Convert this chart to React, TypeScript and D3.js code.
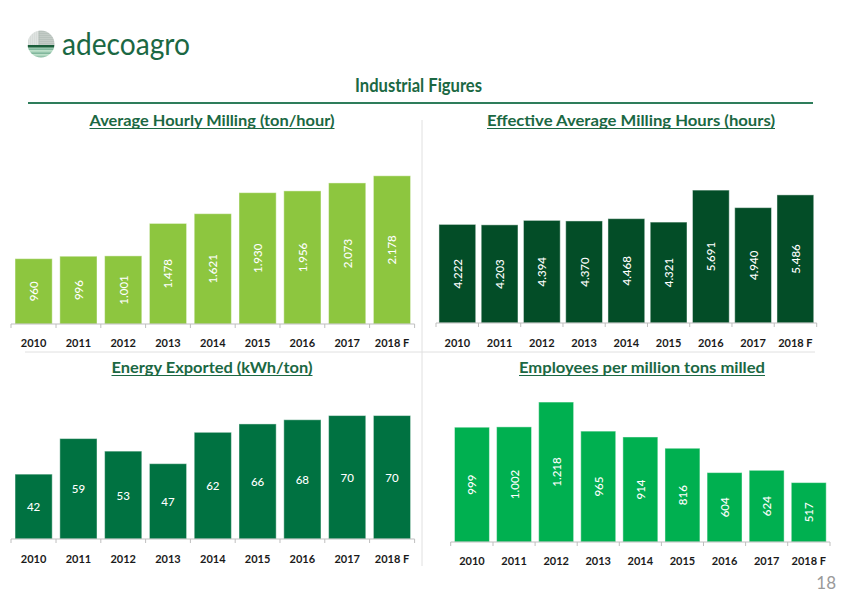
import * as d3 from "d3";

const years = ["2010", "2011", "2012", "2013", "2014", "2015", "2016", "2017", "2018 F"];

const hourlyMilling = [960, 996, 1001, 1478, 1621, 1930, 1956, 2073, 2178];
const hourlyMillingLabels = ["960", "996", "1.001", "1.478", "1.621", "1.930", "1.956", "2.073", "2.178"];

const millingHours = [4222, 4203, 4394, 4370, 4468, 4321, 5691, 4940, 5486];
const millingHoursLabels = ["4.222", "4.203", "4.394", "4.370", "4.468", "4.321", "5.691", "4.940", "5.486"];

const energyExported = [42, 59, 53, 47, 62, 66, 68, 70, 70];
const energyExportedLabels = ["42", "59", "53", "47", "62", "66", "68", "70", "70"];

const employees = [999, 1002, 1218, 965, 914, 816, 604, 624, 517];
const employeesLabels = ["999", "1.002", "1.218", "965", "914", "816", "604", "624", "517"];

const W = 842;
const H = 595;
const darkGreen = "#1b6843";
const font = "Lato, 'Open Sans', sans-serif";

type ChartProps = {
    values: number[];
    labels: string[];
    x0: number;
    x1: number;
    top: number;
    base: number;
    yMin: number;
    yMax: number;
    inner: number;
    outer: number;
    color: string;
    rotate: boolean;
    labelY: number;
};

function BarChart({ values, labels, x0, x1, top, base, yMin, yMax, inner, outer, color, rotate, labelY }: ChartProps) {
    const x = d3.scaleBand<string>().domain(years).range([x0, x1]).paddingInner(inner).paddingOuter(outer);
    const y = d3.scaleLinear().domain([yMin, yMax]).range([base, top]);
    const step = x.step();
    const ticks = years.map((c) => x(c)! - (inner * step) / 2);
    ticks[0] = x0;
    ticks.push(x1);

    return (
        <g>
            {values.map((v, i) => {
                const bx = x(years[i])!;
                const by = y(v);
                const cx = bx + x.bandwidth() / 2;
                const cy = (by + base) / 2;
                return (
                    <g key={i}>
                        <rect
                            x={bx}
                            y={by}
                            width={x.bandwidth()}
                            height={base - by}
                            fill={color}
                            stroke="#ffffff"
                            strokeOpacity={0.45}
                            strokeWidth={1}
                        />
                        <text
                            x={cx}
                            y={cy}
                            transform={rotate ? `rotate(-90, ${cx}, ${cy})` : undefined}
                            textAnchor="middle"
                            dominantBaseline="central"
                            fill="#ffffff"
                            fontSize={11.5}
                            fontWeight={500}
                            fontFamily={font}
                        >
                            {labels[i]}
                        </text>
                    </g>
                );
            })}
            <line x1={x0} x2={x1} y1={base} y2={base} stroke="#bfbfbf" strokeWidth={1} />
            {ticks.map((t, i) => (
                <line key={i} x1={t} x2={t} y1={base} y2={base + 4} stroke="#bfbfbf" strokeWidth={1} />
            ))}
            {years.map((c) => (
                <text
                    key={c}
                    x={x(c)! + x.bandwidth() / 2}
                    y={labelY}
                    textAnchor="middle"
                    fontSize={11}
                    fontWeight={700}
                    fill="#1a1a1a"
                    fontFamily={font}
                >
                    {c}
                </text>
            ))}
        </g>
    );
}

function Subtitle({ cx, y, width, text }: { cx: number; y: number; width: number; text: string }) {
    return (
        <g>
            <text
                x={cx}
                y={y}
                textAnchor="middle"
                fontSize={15}
                fontWeight={700}
                fill={darkGreen}
                fontFamily={font}
                textLength={width}
                lengthAdjust="spacingAndGlyphs"
            >
                {text}
            </text>
            <line x1={cx - width / 2} x2={cx + width / 2} y1={y + 2.5} y2={y + 2.5} stroke={darkGreen} strokeWidth={1} />
        </g>
    );
}

function Logo() {
    const cx = 41;
    const cy = 44;
    const r = 13.5;
    const stripes = d3.range(0, 14);
    return (
        <g>
            <defs>
                <clipPath id="logoClip">
                    <circle cx={cx} cy={cy} r={r} />
                </clipPath>
            </defs>
            <g clipPath="url(#logoClip)">
                <rect x={cx - r} y={cy - r} width={2 * r} height={2 * r} fill="#ffffff" />
                {stripes.map((i) => {
                    const sy = cy - r + i * 2;
                    const lower = sy > cy + 2;
                    return (
                        <rect
                            key={i}
                            x={lower ? cx - r : cx - r + 11}
                            y={sy}
                            width={2 * r}
                            height={1.1}
                            fill={lower ? (i % 2 ? "#2f8a5c" : "#7dbf96") : "#8a9a90"}
                        />
                    );
                })}
                {d3.range(0, 6).map((i) => (
                    <rect key={"v" + i} x={cx - r + 1 + i * 2} y={cy - r} width={0.9} height={r + 1} fill="#b0bab4" />
                ))}
                <rect x={cx - r} y={cy + 1} width={2 * r} height={2.5} fill="#1b5e3b" />
            </g>
            <text x={62} y={55} fontSize={31} fill={darkGreen} fontFamily={font} textLength={128} lengthAdjust="spacingAndGlyphs">
                adecoagro
            </text>
        </g>
    );
}

export default function App() {
    return (
        <div style={{ position: "absolute", left: 0, top: 0 }}>
            <svg width={W} height={H} style={{ display: "block", background: "#ffffff" }}>
                <Logo />
                <text
                    x={418.5}
                    y={92}
                    textAnchor="middle"
                    fontSize={19}
                    fontWeight={700}
                    fill={darkGreen}
                    fontFamily={font}
                    textLength={127}
                    lengthAdjust="spacingAndGlyphs"
                >
                    Industrial Figures
                </text>
                <line x1={28} x2={813} y1={103} y2={103} stroke="#2e7d5b" strokeWidth={2} />

                <line x1={422} x2={422} y1={120} y2={566} stroke="#e0e0e0" strokeWidth={1} />
                <line x1={25} x2={815} y1={352} y2={352} stroke="#e0e0e0" strokeWidth={1} />

                <Subtitle cx={212} y={126} width={245} text="Average Hourly Milling (ton/hour)" />
                <Subtitle cx={631} y={126} width={288} text="Effective Average Milling Hours (hours)" />
                <Subtitle cx={212} y={373} width={201} text="Energy Exported (kWh/ton)" />
                <Subtitle cx={642} y={373} width={246} text="Employees per million tons milled" />

                <BarChart
                    values={hourlyMilling}
                    labels={hourlyMillingLabels}
                    x0={11}
                    x1={414.6}
                    top={160}
                    base={324}
                    yMin={0}
                    yMax={2410}
                    inner={0.17}
                    outer={0.09}
                    color="#8dc63f"
                    rotate={true}
                    labelY={347}
                />
                <BarChart
                    values={millingHours}
                    labels={millingHoursLabels}
                    x0={436}
                    x1={816.7}
                    top={160}
                    base={323}
                    yMin={0}
                    yMax={6980}
                    inner={0.13}
                    outer={0.07}
                    color="#034d27"
                    rotate={true}
                    labelY={347}
                />
                <BarChart
                    values={energyExported}
                    labels={energyExportedLabels}
                    x0={11}
                    x1={414.6}
                    top={380}
                    base={539}
                    yMin={11}
                    yMax={87}
                    inner={0.17}
                    outer={0.09}
                    color="#007241"
                    rotate={false}
                    labelY={563}
                />
                <BarChart
                    values={employees}
                    labels={employeesLabels}
                    x0={450.7}
                    x1={830}
                    top={380}
                    base={542}
                    yMin={0}
                    yMax={1410}
                    inner={0.17}
                    outer={0.09}
                    color="#00b050"
                    rotate={true}
                    labelY={565}
                />

                <text x={836} y={589} textAnchor="end" fontSize={17} fill="#9a9a9a" fontFamily={font}>
                    18
                </text>
            </svg>
        </div>
    );
}
